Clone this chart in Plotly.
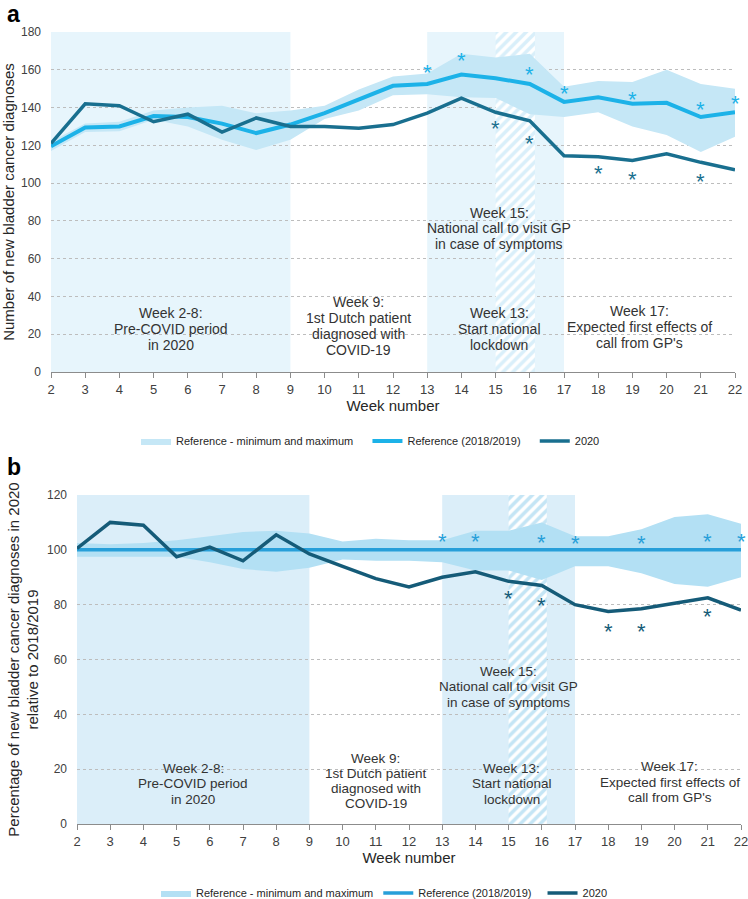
import plotly.graph_objects as go

# ---------------- data ----------------
weeks = list(range(2, 23))
tick_labels = [str(w) for w in weeks]

# Panel a: number of new bladder cancer diagnoses
a_ref = [119.5, 129.5, 130, 135.5, 135, 131.5, 126.5, 131, 137, 144, 151.5,
         152.5, 157.5, 155.5, 152.5, 143, 145.5, 142, 142.5, 135, 137.5]
a_2020 = [121, 142, 141, 132.5, 136.5, 127, 134.5, 130, 130, 129, 131,
          137, 145, 137.5, 133, 114.5, 114, 112, 115.5, 111, 107]
a_min = [117, 127, 127.5, 133.5, 130, 123, 117.5, 123, 134, 138.5, 146.5,
         147, 145.5, 145, 136.5, 135, 137.5, 130, 125.5, 116.5, 124.5]
a_max = [122, 131.5, 132.5, 138.5, 140, 141, 137, 138.5, 141, 149.5, 156.5,
         158, 168.5, 166.5, 168.5, 151, 154, 153.5, 160, 152.5, 150]
a_star_ref_weeks = [13, 14, 16, 17, 19, 21, 22]
a_star_ref_vals = [161, 167.5, 160, 150, 147, 141.5, 145]
a_star_2020_weeks = [15, 16, 18, 19, 21]
a_star_2020_vals = [131.5, 123.5, 108, 104.5, 103.5]

# Panel b: percentage relative to 2018/2019
b_ref = [100, 100, 100, 100, 100, 100, 100, 100, 100, 100, 100,
         100, 100, 100, 100, 100, 100, 100, 100, 100, 100]
b_2020 = [100.5, 110, 109, 97.5, 101, 96, 105.5, 98.5, 94, 89.5, 86.5,
          90, 92, 88.5, 87, 80, 77.5, 78.5, 80.5, 82.5, 78]
b_min = [97.5, 97.5, 97.5, 97.5, 95.5, 93, 92, 93.5, 96.5, 96, 96,
         95.5, 92.5, 92.5, 89, 94, 94, 91.5, 87.5, 86.5, 90]
b_max = [102.5, 102, 102.5, 103.5, 105, 106.5, 107, 106, 103, 104, 103.5,
         103.5, 107, 107, 110, 105, 105, 107.5, 112, 113, 109.5]
b_star_ref_weeks = [13, 14, 16, 17, 19, 21, 22]
b_star_ref_vals = [105, 105, 104.5, 104, 104, 105, 105]
b_star_2020_weeks = [15, 16, 18, 19, 21]
b_star_2020_vals = [84, 81.5, 72, 72, 77.5]

period_spans = [(2, 9), (13, 17)]
hatch_span = (15, 16.15)

note_texts = [
    ["Week 2-8:", "Pre-COVID period", "in 2020"],
    ["Week 9:", "1st Dutch patient", "diagnosed with", "COVID-19"],
    ["Week 13:", "Start national", "lockdown"],
    ["Week 15:", "National call to visit GP", "in case of symptoms"],
    ["Week 17:", "Expected first effects of", "call from GP's"],
]
notes_pos_a = [(5.5, 22.7), (11.0, 24.4), (15.1, 22.7), (15.1, 76), (19.2, 23.8)]
notes_pos_b = [(5.5, 14.6), (11.0, 15.7), (15.1, 14.6), (15.0, 50), (19.85, 15.3)]

legend_names = ["Reference - minimum and maximum", "Reference (2018/2019)", "2020"]

# ---------------- styles ----------------
W, H = 748, 899
FONT = "Liberation Sans, Arial, sans-serif"
TXT = "#404040"
NB = "\u00a0"

styles = {
    "a": dict(region="#e7f5fc", band="#c5e7f6", ref="#1cb2e8", dark="#196f8f",
              hatch="#d9effa", lw_ref=4, lw_dark=3.5, pads=[NB * 3, NB * 3, ""]),
    "b": dict(region="#dbeef9", band="#b3e0f4", ref="#279fd9", dark="#155b78",
              hatch="#c4e5f5", lw_ref=3.5, lw_dark=3.5, pads=["", NB * 2, ""]),
}

fig = go.Figure()
annotations = []


def add_panel(key, xa, ya, ymax, ref, y2020, ymin, ymaxs, sr_w, sr_v, sd_w, sd_v, legend):
    st = styles[key]
    pads = st["pads"]
    for x0, x1 in period_spans:
        fig.add_shape(type="rect", xref=xa, yref=ya, x0=x0, x1=x1, y0=0, y1=ymax,
                      fillcolor=st["region"], line_width=0, layer="below")
    hx0, hx1 = hatch_span
    fig.add_trace(go.Scatter(
        x=[hx0, hx1, hx1, hx0, hx0], y=[0, 0, ymax, ymax, 0], mode="none",
        fill="toself", fillcolor="white",
        fillpattern=dict(shape="/", fgcolor=st["hatch"], bgcolor="white",
                         size=7, solidity=0.5),
        showlegend=False, hoverinfo="skip", xaxis=xa, yaxis=ya))
    fig.add_trace(go.Scatter(x=weeks, y=ymin, mode="lines", line=dict(width=0),
                             showlegend=False, hoverinfo="skip", xaxis=xa, yaxis=ya))
    fig.add_trace(go.Scatter(x=weeks, y=ymaxs, mode="lines", line=dict(width=0),
                             fill="tonexty", fillcolor=st["band"], name=legend_names[0] + pads[0],
                             legend=legend, xaxis=xa, yaxis=ya))
    fig.add_trace(go.Scatter(x=weeks, y=ref, mode="lines",
                             line=dict(color=st["ref"], width=st["lw_ref"]),
                             name=legend_names[1] + pads[1], legend=legend, xaxis=xa, yaxis=ya))
    fig.add_trace(go.Scatter(x=weeks, y=y2020, mode="lines",
                             line=dict(color=st["dark"], width=st["lw_dark"]),
                             name=legend_names[2] + pads[2], legend=legend, xaxis=xa, yaxis=ya))
    # significance asterisks
    for ws, vs, col in [(sr_w, sr_v, st["ref"]), (sd_w, sd_v, st["dark"])]:
        for w, v in zip(ws, vs):
            annotations.append(dict(x=w, y=v, xref=xa, yref=ya, text="*", showarrow=False,
                                    xanchor="center", yanchor="middle", yshift=-5,
                                    font=dict(size=22, color=col, family=FONT)))


add_panel("a", "x", "y", 180, a_ref, a_2020, a_min, a_max,
          a_star_ref_weeks, a_star_ref_vals, a_star_2020_weeks, a_star_2020_vals, "legend")
add_panel("b", "x2", "y2", 120, b_ref, b_2020, b_min, b_max,
          b_star_ref_weeks, b_star_ref_vals, b_star_2020_weeks, b_star_2020_vals, "legend2")

# text notes
for (xa, ya, pos, fsize, lh) in [("x", "y", notes_pos_a, 14, 15.8), ("x2", "y2", notes_pos_b, 13.5, 15.3)]:
    for lines, (nx, ny) in zip(note_texts, pos):
        n = len(lines)
        for i, line in enumerate(lines):
            annotations.append(dict(
                x=nx, y=ny, xref=xa, yref=ya, text=line, showarrow=False,
                yshift=((n - 1) / 2 - i) * lh, xanchor="center", yanchor="middle",
                font=dict(size=fsize, color="#333333", family=FONT)))

annotations.append(dict(x=5 / W, y=1 - 14 / H, xref="paper", yref="paper", text="<b>a</b>",
                        showarrow=False, xanchor="left", yanchor="middle",
                        font=dict(size=23, color="black", family=FONT)))
annotations.append(dict(x=5 / W, y=1 - 467 / H, xref="paper", yref="paper", text="<b>b</b>",
                        showarrow=False, xanchor="left", yanchor="middle",
                        font=dict(size=23, color="black", family=FONT)))

xaxis_common = dict(range=[2, 22], tickvals=weeks, ticktext=tick_labels, ticks="outside",
                    ticklen=5, tickcolor="#8c8c8c", showline=True, linecolor="#8c8c8c",
                    linewidth=1, showgrid=False, zeroline=False, ticklabeloverflow="allow",
                    tickfont=dict(size=13, color=TXT, family=FONT), automargin=False)
yaxis_common = dict(dtick=20, showgrid=True, gridcolor="#bdbdbd", griddash="dot", gridwidth=1,
                    zeroline=False, showline=False, ticks="", ticklabelstandoff=9,
                    tickfont=dict(size=12, color=TXT, family=FONT), automargin=False)
xtitle_font = dict(size=15, color="#262626", family=FONT)

fig.update_layout(
    width=W, height=H, margin=dict(l=0, r=0, t=0, b=0, autoexpand=False),
    paper_bgcolor="white", plot_bgcolor="white", template="none",
    font=dict(family=FONT, color=TXT),
    xaxis=dict(xaxis_common, domain=[51 / W, 735 / W], anchor="y",
               title=dict(text="Week number", font=xtitle_font, standoff=3)),
    yaxis=dict(yaxis_common, range=[0, 180], domain=[1 - 372 / H, 1 - 32 / H], anchor="x",
               title=dict(text="Number of new bladder cancer diagnoses",
                          font=dict(size=15, color="#262626", family=FONT), standoff=2)),
    xaxis2=dict(xaxis_common, domain=[77 / W, 741 / W], anchor="y2",
                title=dict(text="Week number", font=xtitle_font, standoff=4)),
    yaxis2=dict(yaxis_common, range=[0, 120], domain=[1 - 824 / H, 1 - 495 / H], anchor="x2",
                title=dict(text="Percentage of new bladder cancer diagnoses in 2020<br>relative to 2018/2019",
                           font=dict(size=15, color="#262626", family=FONT), standoff=4)),
    legend=dict(orientation="h", x=136 / W, y=1 - 441 / H, xanchor="left", yanchor="middle",
                font=dict(size=11, color="#262626", family=FONT), itemwidth=30,
                bgcolor="rgba(0,0,0,0)", traceorder="normal"),
    legend2=dict(orientation="h", x=156 / W, y=1 - 893 / H, xanchor="left", yanchor="middle",
                 font=dict(size=11, color="#262626", family=FONT), itemwidth=30,
                 bgcolor="rgba(0,0,0,0)", traceorder="normal"),
    annotations=annotations,
    showlegend=True,
)

fig.write_html("out.html", config={"displayModeBar": False},
               post_script="document.body.style.margin='0';")
